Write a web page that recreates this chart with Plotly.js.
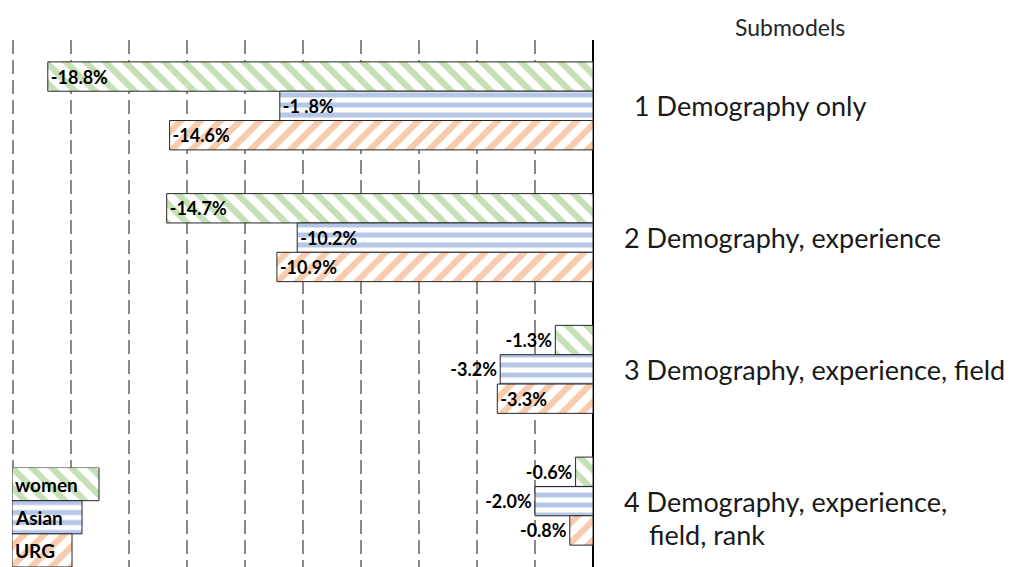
<!DOCTYPE html>
<html><head>
<script src="https://cdn.plot.ly/plotly-3.0.1.min.js"></script>
<style>body{margin:0;background:#fff}</style>
</head><body>
<div id="chart" style="width:1013px;height:567px"></div>
<script>
// ---- data ----
const submodels = ['1 Demography only', '2 Demography, experience', '3 Demography, experience, field', '4 Demography, experience,<br>field, rank'];
const seriesNames = ['women', 'Asian', 'URG'];
const women = [-18.8, -14.7, -1.3, -0.6];
const asian = [-10.8, -10.2, -3.2, -2.0];
const urg = [-14.6, -10.9, -3.3, -0.8];
const womenLabels = ['-18.8%', '-14.7%', '-1.3%', '-0.6%'];
const asianLabels = ['-1 .8%', '-10.2%', '-3.2%', '-2.0%'];
const urgLabels = ['-14.6%', '-10.9%', '-3.3%', '-0.8%'];
const headerTitle = 'Submodels';

// ---- style ----
const FONT = 'Lato, "Noto Sans", sans-serif';
const patterns = {
  women: {shape: '\\', fgcolor: '#c5e0b4', bgcolor: '#ffffff', size: 14, solidity: 0.45, fillmode: 'replace'},
  Asian: {shape: '-', fgcolor: '#b4c7e7', bgcolor: '#ffffff', size: 10, solidity: 0.5, fillmode: 'replace'},
  URG: {shape: '/', fgcolor: '#f8cbad', bgcolor: '#ffffff', size: 14, solidity: 0.45, fillmode: 'replace'}
};
const textPos = {
  women: ['inside', 'inside', 'outside', 'outside'],
  Asian: ['inside', 'inside', 'outside', 'outside'],
  URG: ['inside', 'inside', 'inside', 'outside']
};
const legendLen = {women: 87, Asian: 70, URG: 60};
const labelIndent = [10, 0, 0, 0];

const seriesVals = {women: women, Asian: asian, URG: urg};
const seriesLabels = {women: womenLabels, Asian: asianLabels, URG: urgLabels};

const traces = seriesNames.map(name => ({
  type: 'bar', orientation: 'h', name: name,
  x: seriesVals[name], y: submodels,
  text: seriesLabels[name], textposition: textPos[name],
  insidetextanchor: 'end', constraintext: 'none', cliponaxis: false,
  textfont: {family: FONT, size: 18, color: '#000', weight: 'bold'},
  marker: {pattern: patterns[name], line: {color: '#262626', width: 1}},
  hoverinfo: 'skip', showlegend: false, xaxis: 'x', yaxis: 'y'
}));

// fake legend samples (Excel-style)
seriesNames.forEach(name => {
  traces.push({
    type: 'bar', orientation: 'h', name: name,
    x: [legendLen[name]], y: [name], width: 1, offset: -0.5,
    text: [name], textposition: 'inside', insidetextanchor: 'start', constraintext: 'none',
    textfont: {family: FONT, size: 19, color: '#000', weight: 'bold'},
    marker: {pattern: patterns[name], line: {color: '#262626', width: 1}},
    hoverinfo: 'skip', showlegend: false, xaxis: 'x2', yaxis: 'y2'
  });
});

const annotations = [{
  text: headerTitle, xref: 'paper', yref: 'paper', x: 790 / 1013, y: 1, yshift: 13,
  xanchor: 'center', yanchor: 'middle', showarrow: false,
  font: {family: FONT, size: 23, color: '#262626'}
}];
submodels.forEach((s, i) => {
  s.split('<br>').forEach((line, j) => {
    annotations.push({
      text: line, xref: 'paper', yref: 'y', x: 622 / 1013, y: s,
      xanchor: 'left', yanchor: 'middle', showarrow: false,
      xshift: labelIndent[i] + (j > 0 ? 25 : 0), yshift: -33 * j,
      font: {family: FONT, size: 27, color: '#1a1a1a'}
    });
  });
});

const layout = {
  width: 1013, height: 567,
  margin: {l: 0, r: 0, t: 40, b: 0},
  paper_bgcolor: '#fff', plot_bgcolor: '#fff',
  barmode: 'group', bargap: 0.332, bargroupgap: 0,
  showlegend: false,
  xaxis: {
    domain: [(13 - 0.3 * 29) / 1013, 593 / 1013], range: [-20.3, 0], dtick: 2, tick0: 0,
    showgrid: true, gridcolor: '#8a8a8a', gridwidth: 1.5, griddash: '14px,6px',
    zeroline: true, zerolinecolor: '#000', zerolinewidth: 2.5,
    showticklabels: false, ticks: '', showline: false, fixedrange: true
  },
  yaxis: {
    type: 'category', categoryarray: submodels, range: [3.5, -0.5],
    showgrid: false, zeroline: false, showticklabels: false, ticks: '', showline: false
  },
  xaxis2: {domain: [12 / 1013, 112 / 1013], range: [0, 100], anchor: 'y2', visible: false},
  yaxis2: {domain: [0, 107 / 567], type: 'category', categoryarray: seriesNames, range: [2.5, -0.5], anchor: 'x2', visible: false},
  annotations: annotations
};

Plotly.newPlot('chart', traces, layout, {staticPlot: true, displayModeBar: false});
</script>
</body></html>
